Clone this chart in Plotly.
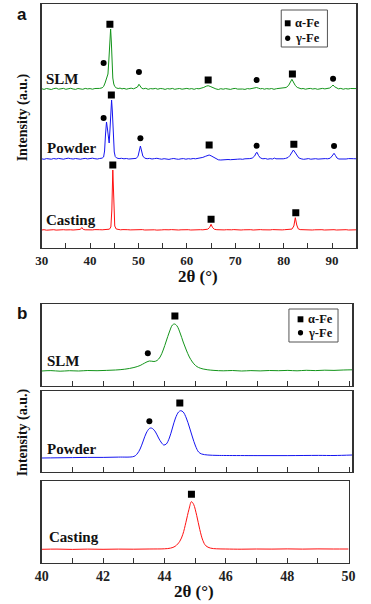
import plotly.graph_objects as go

# ---------------- DATA ----------------
# Panel a: wide-angle XRD, intensity relative to each curve's own baseline
slm_a_x = [30.0,30.5,31.0,31.5,32.0,32.5,33.0,33.5,34.0,34.5,35.0,35.5,36.0,36.5,37.0,37.5,38.0,38.5,39.0,39.5,40.0,40.5,41.0,41.5,42.0,42.5,42.8,43.1,43.3,43.5,43.7,43.9,44.1,44.25,44.4,44.55,44.7,44.9,45.1,45.4,45.8,46.2,46.6,47.0,47.5,48.0,48.5,49.0,49.5,49.8,50.1,50.4,50.7,51.0,51.5,52.0,52.5,53.0,53.5,54.0,54.5,55.0,55.5,56.0,56.5,57.0,57.5,58.0,58.5,59.0,59.5,60.0,60.5,61.0,61.5,62.0,62.5,63.0,63.5,64.0,64.4,64.8,65.2,65.6,66.0,66.5,67.0,67.5,68.0,68.5,69.0,69.5,70.0,70.5,71.0,71.5,72.0,72.5,73.0,73.5,74.0,74.4,74.8,75.2,75.6,76.0,76.5,77.0,77.5,78.0,78.5,79.0,79.5,80.0,80.5,81.0,81.4,81.7,82.0,82.4,82.8,83.2,83.6,84.0,84.5,85.0,85.5,86.0,86.5,87.0,87.5,88.0,88.5,89.0,89.5,89.9,90.2,90.5,90.9,91.3,91.8,92.3,92.8,93.3,93.8,94.3,95.0]
slm_a_y = [0.3,-0.4,0.5,0.0,-0.5,0.4,0.8,-0.2,0.3,0.6,-0.3,0.2,0.7,0.0,-0.4,0.5,0.2,-0.3,0.6,0.1,0.4,-0.2,0.5,0.3,0.6,1.2,2.5,6,10,12,15,30,52,60,47,25,11,5,2.5,1.2,0.5,0.9,0.1,0.6,-0.2,0.4,0.8,0.2,0.9,2,4.7,2,0.6,0.2,0.7,-0.3,0.4,0.1,0.6,-0.2,0.5,0.3,-0.4,0.4,0.0,0.6,-0.3,0.2,0.5,-0.2,0.3,0.6,0.0,0.4,-0.3,0.5,0.2,0.8,1.6,2.8,3.3,2.6,1.5,0.6,0.1,-0.5,0.3,-0.2,0.4,0.0,-0.4,0.3,0.6,-0.1,0.3,0.0,-0.4,0.4,0.1,0.6,0.9,1.5,0.8,0.2,0.5,-0.2,0.4,0.0,0.5,-0.3,0.3,0.6,0.2,0.8,1.5,3.5,7,9.7,7,3.5,1.6,0.8,0.2,0.5,-0.2,0.3,0.6,0.0,0.4,-0.3,0.3,0.6,0.1,0.5,1.0,2.5,4,2.3,0.8,0.2,0.6,-0.2,0.4,0.0,0.5,0.2,0.4]

powder_a_x = [30.0,30.5,31.0,31.5,32.0,32.5,33.0,33.5,34.0,34.5,35.0,35.5,36.0,36.5,37.0,37.5,38.0,38.5,39.0,39.5,40.0,40.5,41.0,41.5,42.0,42.5,42.8,43.0,43.2,43.4,43.6,43.8,43.95,44.1,44.3,44.45,44.6,44.8,45.0,45.2,45.5,46.0,46.5,47.0,47.5,48.0,48.5,49.0,49.5,49.9,50.2,50.4,50.6,50.9,51.3,51.8,52.3,52.8,53.3,53.8,54.3,54.8,55.3,55.8,56.3,56.8,57.3,57.8,58.3,58.8,59.3,59.8,60.3,60.8,61.3,61.8,62.3,62.8,63.3,63.8,64.3,64.6,65.0,65.5,66.0,66.5,67.0,67.5,68.0,68.5,69.0,69.5,70.0,70.5,71.0,71.5,72.0,72.5,73.0,73.5,74.0,74.3,74.5,74.8,75.2,75.7,76.2,76.7,77.2,77.7,78.1,78.4,78.9,79.4,79.9,80.4,80.9,81.3,81.7,82.0,82.3,82.7,83.1,83.6,84.1,84.6,85.1,85.6,86.1,86.6,87.1,87.6,88.1,88.6,89.1,89.6,90.0,90.4,90.7,91.0,91.4,91.9,92.4,92.9,93.4,93.9,94.4,95.0]
powder_a_y = [0.2,-0.3,0.4,0.1,-0.2,0.5,0.0,0.6,0.2,-0.2,0.4,0.8,0.3,0.0,0.5,0.2,-0.2,0.3,0.6,0.1,0.4,0.8,0.3,0.0,0.5,0.9,2,8,25,37,30,17,16,28,52,59,48,22,7,2.5,1,0.4,0.7,0.2,0.5,0.0,0.4,0.7,0.6,2.5,9,13,9,3,0.8,0.3,0.6,0.0,0.4,0.7,0.2,-0.2,0.3,0.0,-0.4,0.2,0.5,0.0,-0.3,0.2,0.4,-0.2,0.3,0.0,0.5,0.2,0.6,0.9,1.6,2.6,3.6,4,3.2,1.8,0.3,-0.8,-1,-0.6,-0.9,-0.5,-0.7,-0.3,-0.6,-0.2,0.0,-0.3,0.2,0.0,0.4,0.9,3,6,6.7,3.5,1,0.2,0.5,-0.2,0.3,0.0,0.9,0.2,0.0,0.4,0.2,0.6,1.5,3.5,7,9,7,3.5,1.2,0.2,-0.3,0.0,0.4,-0.2,0.1,0.3,-0.1,0.3,0.0,0.4,0.2,0.8,3,5.7,3.5,1.0,0.0,-0.2,0.3,0.0,0.4,0.1,0.3,0.2]

casting_a_x = [30.0,30.5,31.0,31.5,32.0,32.5,33.0,33.5,34.0,34.5,35.0,35.5,36.0,36.5,37.0,37.5,38.0,38.3,38.6,39.0,39.5,40.0,40.5,41.0,41.5,42.0,42.5,43.0,43.5,44.0,44.3,44.5,44.7,44.9,45.1,45.4,45.8,46.3,46.8,47.3,47.8,48.3,48.8,49.3,49.8,50.3,50.8,51.3,51.8,52.3,52.8,53.3,53.8,54.3,54.8,55.3,55.8,56.3,56.8,57.3,57.8,58.3,58.8,59.3,59.8,60.3,60.8,61.3,61.8,62.3,62.8,63.3,63.8,64.3,64.7,65.0,65.3,65.7,66.2,66.7,67.2,67.7,68.2,68.7,69.2,69.7,70.2,70.7,71.2,71.7,72.2,72.7,73.2,73.7,74.2,74.7,75.2,75.7,76.2,76.7,77.2,77.7,78.2,78.7,79.2,79.7,80.2,80.7,81.2,81.7,82.1,82.4,82.7,83.0,83.4,83.9,84.4,84.9,85.4,85.9,86.4,86.9,87.4,87.9,88.4,88.9,89.4,89.9,90.4,90.9,91.4,91.9,92.4,92.9,93.4,93.9,94.4,95.0]
casting_a_y = [0.0,0.3,-0.2,0.2,0.0,0.3,-0.1,0.2,0.0,0.3,0.1,-0.2,0.2,0.0,0.3,0.1,0.6,2.5,0.6,0.2,0.0,0.3,0.1,0.4,0.0,0.3,0.2,0.4,0.3,0.8,3,20,60,22,4,1,0.4,0.2,0.4,0.0,0.3,0.1,0.3,0.0,0.3,0.2,0.4,0.0,0.2,0.4,0.0,0.2,-0.1,0.3,0.1,0.3,0.0,0.2,0.4,0.1,0.3,0.0,0.2,0.4,0.1,0.3,0.0,0.2,0.4,0.1,0.3,0.2,0.4,0.8,2.5,5.7,2.5,0.7,0.3,0.0,0.3,0.1,0.3,0.0,0.2,0.4,0.1,0.3,0.0,0.2,0.4,0.1,0.3,0.0,0.3,0.1,0.4,0.2,0.0,0.3,0.1,0.4,0.2,0.0,0.3,0.1,0.3,0.4,0.3,0.9,4,12.3,5,1.2,0.4,0.2,0.4,0.1,0.3,0.0,0.2,0.4,0.1,0.3,0.0,0.2,0.4,0.1,0.3,0.0,0.2,0.4,0.1,0.3,0.0,0.2,0.4,0.2]

# Panel a phase markers (2theta, height above baseline)
slm_a_alpha_x = [44.1, 64.4, 81.8];        slm_a_alpha_h = [64.7, 9, 15]
slm_a_gamma_x = [42.8, 50.1, 74.4, 90.2];  slm_a_gamma_h = [26, 17, 9, 10.3]
powder_a_alpha_x = [44.4, 64.6, 82.1];     powder_a_alpha_h = [64, 14, 14.7]
powder_a_gamma_x = [42.8, 50.4, 74.4, 90.4]; powder_a_gamma_h = [41, 20.7, 13.3, 13]
casting_a_alpha_x = [44.7, 65.0, 82.5];    casting_a_alpha_h = [65, 10.7, 17.3]

# Panel b: zoom on 40-50 deg
slm_b_x = [40.0,40.3,40.6,40.9,41.2,41.5,41.8,42.1,42.4,42.7,43.0,43.2,43.35,43.5,43.65,43.75,43.85,43.95,44.05,44.15,44.25,44.32,44.4,44.5,44.6,44.7,44.8,44.9,45.0,45.1,45.25,45.4,45.6,45.9,46.2,46.5,46.8,47.1,47.4,47.7,48.0,48.3,48.6,48.9,49.2,49.5,49.8,50.1]
slm_b_y = [0,0.4,-0.2,0.3,0.0,0.5,0.3,0.6,1.0,1.8,3.5,5.5,8,10,9.5,10.5,14,21,30,39,46,47,45,38,29,21,14,9,5.5,3.5,2,1.2,0.6,0.2,0.5,0.0,0.4,0.1,0.5,0.3,0.6,0.2,0.7,0.4,0.8,0.6,1.0,1.2]
powder_b_x = [40.0,40.5,41.0,41.5,42.0,42.5,43.0,43.1,43.2,43.3,43.4,43.5,43.55,43.6,43.7,43.8,43.9,43.97,44.05,44.15,44.25,44.35,44.45,44.52,44.6,44.7,44.8,44.9,45.0,45.1,45.2,45.4,45.7,46.0,47.0,48.0,49.0,49.5,50.1]
powder_b_y = [0,0.2,0.4,0.6,0.6,0.9,1.6,4,9,17,25,29.5,30,29.5,26,20,15,13,14,20,30,40,46,47.3,46,40,31,21,12,6,4,3,2.6,2.5,2.4,2.4,2.6,2.5,3.0]
casting_b_x = [40.0,40.5,41.0,41.5,42.0,42.5,43.0,43.5,44.0,44.2,44.35,44.5,44.6,44.7,44.8,44.88,44.95,45.05,45.15,45.25,45.35,45.5,45.7,46.0,46.5,47.0,47.5,48.0,48.5,49.0,49.5,50.0]
casting_b_y = [0,0.2,-0.1,0.2,0.0,0.2,0.1,0.3,0.5,1.2,3,8,15,27,40,47.6,45,34,20,9,3.5,1.2,0.5,0.3,0.1,0.3,0.2,0.4,0.2,0.4,0.3,0.3]

slm_b_alpha_x = [44.33];    slm_b_alpha_h = [55]
slm_b_gamma_x = [43.45];    slm_b_gamma_h = [17.7]
powder_b_alpha_x = [44.49]; powder_b_alpha_h = [55]
powder_b_gamma_x = [43.5];  powder_b_gamma_h = [36.7]
casting_b_alpha_x = [44.88]; casting_b_alpha_h = [55]

x_ticks_a = [30, 40, 50, 60, 70, 80, 90]
x_ticks_b = [40, 42, 44, 46, 48, 50]
sample_names = ["SLM", "Powder", "Casting"]
phase_names = ["α-Fe", "γ-Fe"]

# ---------------- STYLE / LAYOUT ----------------
W, H = 371, 604
def px(x): return x / W
def py(y): return 1 - y / H

GREEN, BLUE, RED = "#13941a", "#1515f0", "#ff1010"
SERIF = "Liberation Serif"
FRAME = "#333333"

# baseline offsets (layout positions, in axis units)
off_a = {"SLM": 159, "Powder": 89, "Casting": 18}
off_b = {"SLM": 15, "Powder": 14, "Casting": 13.7}

fig = go.Figure()

def add_curve(x, y, off, color, xa, ya, shape="linear"):
    fig.add_trace(go.Scatter(x=x, y=[v + off for v in y], mode="lines",
                             line=dict(color=color, width=1, shape=shape),
                             xaxis=xa, yaxis=ya, showlegend=False, hoverinfo="skip"))

def add_marks(x, h, off, symbol, size, xa, ya):
    fig.add_trace(go.Scatter(x=x, y=[v + off for v in h], mode="markers",
                             marker=dict(symbol=symbol, size=size, color="black"),
                             xaxis=xa, yaxis=ya, showlegend=False, hoverinfo="skip"))

# panel a
add_curve(slm_a_x, slm_a_y, off_a["SLM"], GREEN, "x", "y")
add_curve(powder_a_x, powder_a_y, off_a["Powder"], BLUE, "x", "y")
add_curve(casting_a_x, casting_a_y, off_a["Casting"], RED, "x", "y")
add_marks(slm_a_alpha_x, slm_a_alpha_h, off_a["SLM"], "square", 7, "x", "y")
add_marks(slm_a_gamma_x, slm_a_gamma_h, off_a["SLM"], "circle", 6, "x", "y")
add_marks(powder_a_alpha_x, powder_a_alpha_h, off_a["Powder"], "square", 7, "x", "y")
add_marks(powder_a_gamma_x, powder_a_gamma_h, off_a["Powder"], "circle", 6, "x", "y")
add_marks(casting_a_alpha_x, casting_a_alpha_h, off_a["Casting"], "square", 7, "x", "y")

# panel b
add_curve(slm_b_x, slm_b_y, off_b["SLM"], GREEN, "x2", "y2", "spline")
add_marks(slm_b_alpha_x, slm_b_alpha_h, off_b["SLM"], "square", 7, "x2", "y2")
add_marks(slm_b_gamma_x, slm_b_gamma_h, off_b["SLM"], "circle", 6, "x2", "y2")
add_curve(powder_b_x, powder_b_y, off_b["Powder"], BLUE, "x3", "y3", "spline")
add_marks(powder_b_alpha_x, powder_b_alpha_h, off_b["Powder"], "square", 7, "x3", "y3")
add_marks(powder_b_gamma_x, powder_b_gamma_h, off_b["Powder"], "circle", 6, "x3", "y3")
add_curve(casting_b_x, casting_b_y, off_b["Casting"], RED, "x4", "y4", "spline")
add_marks(casting_b_alpha_x, casting_b_alpha_h, off_b["Casting"], "square", 7, "x4", "y4")

tickfont_a = dict(family=SERIF, size=13, color="#222", weight="bold")
tickfont_b = dict(family=SERIF, size=14, color="#222", weight="bold")

def xaxis(dom, rng, ticks, minor, anchor, labels, font):
    return dict(domain=dom, range=rng, anchor=anchor, showgrid=False, zeroline=False,
                showline=True, linecolor=FRAME, linewidth=1.3, mirror=True,
                ticks="inside", ticklen=5, tickwidth=1, tickcolor=FRAME,
                tickvals=ticks, showticklabels=labels, tickfont=font,
                minor=dict(dtick=minor, ticks="inside", ticklen=5, tickwidth=1, tickcolor=FRAME, showgrid=False))

def yaxis(dom, rng, anchor):
    return dict(domain=dom, range=rng, anchor=anchor, showgrid=False, zeroline=False,
                showline=True, linecolor=FRAME, linewidth=1.3, mirror=True,
                ticks="", showticklabels=False)

fig.update_layout(
    width=W, height=H, margin=dict(l=0, r=0, t=0, b=0),
    paper_bgcolor="white", plot_bgcolor="white", showlegend=False,
    xaxis=xaxis([px(36), px(363)], [30, 95], x_ticks_a, 5, "y", True, tickfont_a),
    yaxis=yaxis([py(248), py(4)], [0, 244], "x"),
    xaxis2=xaxis([px(36), px(359)], [40, 50.1], x_ticks_b, 1, "y2", False, tickfont_b),
    yaxis2=yaxis([py(386), py(304)], [0, 82], "x2"),
    xaxis3=xaxis([px(36), px(359)], [40, 50.1], x_ticks_b, 1, "y3", False, tickfont_b),
    yaxis3=yaxis([py(472), py(391)], [0, 81], "x3"),
    xaxis4=xaxis([px(36), px(355)], [40, 50], x_ticks_b, 1, "y4", True, tickfont_b),
    yaxis4=yaxis([py(563), py(481)], [0, 82], "x4"),
)

ann = []
def text(s, x, y, size, xanchor="left", family=SERIF, weight="bold", angle=0, color="#111"):
    ann.append(dict(text=s, x=px(x), y=py(y), xref="paper", yref="paper", showarrow=False,
                    xanchor=xanchor, yanchor="middle", textangle=angle,
                    font=dict(family=family, size=size, color=color, weight=weight)))

# panel letters
text("a", 8, 14, 17, family="Liberation Sans")
text("b", 8, 313, 17, family="Liberation Sans")
# sample labels
for name, (xa, ya), (xb, yb) in zip(sample_names,
                                    [(38, 79), (39, 148), (38, 220)],
                                    [(40, 361), (40, 449), (42, 537)]):
    text(name, xa, ya, 15)
    text(name, xb, yb, 15)
# axis titles
text("2θ (°)", 199, 276, 17, xanchor="center")
text("2θ (°)", 194, 591, 17, xanchor="center")
text("Intensity (a.u.)", 17, 117, 14, xanchor="center", angle=-90)
text("Intensity (a.u.)", 17, 432, 14, xanchor="center", angle=-90)

# legend boxes (drawn)
shapes = []
def legend(x0, y0, x1, y1, sx, ya, yg, tx):
    shapes.append(dict(type="rect", xref="paper", yref="paper", x0=px(x0), x1=px(x1), y0=py(y1), y1=py(y0),
                       line=dict(color="#555", width=1), fillcolor="white"))
    shapes.append(dict(type="rect", xref="paper", yref="paper", x0=px(sx - 3), x1=px(sx + 3),
                       y0=py(ya + 3), y1=py(ya - 3), line=dict(width=0), fillcolor="black"))
    shapes.append(dict(type="circle", xref="paper", yref="paper", x0=px(sx - 2.7), x1=px(sx + 2.7),
                       y0=py(yg + 2.7), y1=py(yg - 2.7), line=dict(width=0), fillcolor="black"))
    text(phase_names[0], tx, ya, 12.5)
    text(phase_names[1], tx, yg, 12.5)

legend(285, 10, 333, 47, 291.7, 23.3, 38.3, 297.5)
legend(293, 309, 344, 342, 305, 319.3, 332.7, 310.5)

fig.update_layout(annotations=ann, shapes=shapes)
fig.write_html("out.html", config={"displayModeBar": False, "staticPlot": True},
               post_script="document.body.style.margin='0';document.body.style.padding='0';"
                           "document.body.style.overflow='hidden';")
